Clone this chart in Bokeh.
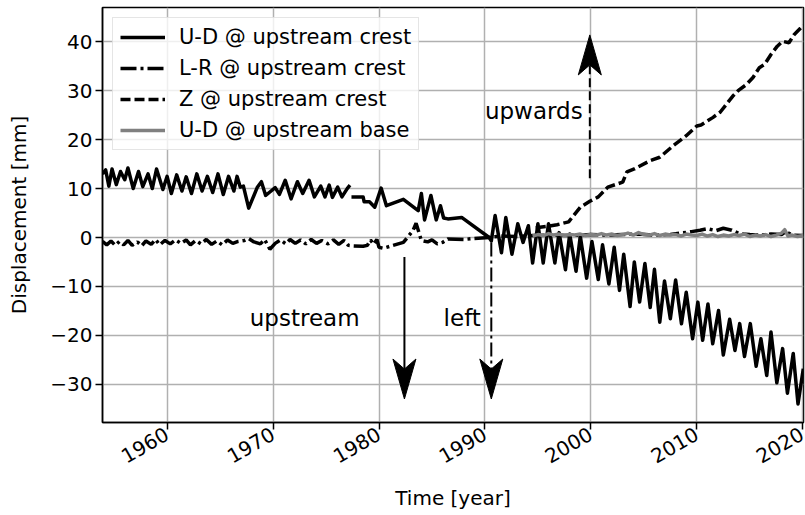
import math
from bokeh.plotting import figure
from bokeh.models import FixedTicker, Label
from bokeh.embed import file_html
from bokeh.resources import INLINE

FONT = "DejaVu Sans"
NAN = float("nan")

# ---------------- data ----------------
# U-D @ upstream crest
ud_crest_t = [1953.9, 1954.2, 1954.5, 1954.8, 1955.2, 1955.6, 1956.0, 1956.3, 1956.8, 1957.3,
              1957.7, 1958.2, 1958.6, 1959.0, 1959.6, 1960.0, 1960.4, 1960.9, 1961.4, 1961.8,
              1962.3, 1962.8, 1963.3, 1963.8, 1964.3, 1964.8, 1965.3, 1965.8, 1966.3, 1966.6,
              1966.9, 1967.2, 1967.7, 1968.5, 1968.9, 1969.3, 1969.7, 1970.2, 1970.6, 1971.15,
              1971.7, 1972.3, 1972.8, 1973.4, 1973.9, 1974.5, 1974.9, 1975.3, 1975.6, 1976.1,
              1976.5, 1977.0, 1977.26, 1977.35,
              1977.4, 1978.5, 1978.6, 1979.1, 1979.6, 1980.2, 1980.7, 1982.3, 1983.7, 1984.0,
              1984.3, 1984.9, 1985.4, 1985.8, 1986.1, 1986.5, 1987.8, 1990.4, 1990.6, 1990.96,
              1991.56, 1991.97, 1992.55, 1993.1, 1993.6, 1994.1, 1994.5, 1995.0, 1995.5, 1996.0,
              1996.6, 1997.0, 1997.6, 1998.0, 1998.6, 1999.0, 1999.6, 2000.1, 2000.7, 2001.1,
              2001.7, 2002.2, 2002.7, 2003.1, 2003.7, 2004.1, 2004.6, 2005.1, 2005.6, 2006.0,
              2006.5, 2006.95, 2007.5, 2008.0, 2008.55, 2009.0, 2009.6, 2010.1, 2010.55, 2011.05,
              2011.5, 2012.05, 2012.5, 2013.1, 2013.6, 2014.05, 2014.5, 2015.05, 2015.6, 2016.05,
              2016.6, 2017.0, 2017.55, 2018.1, 2018.55, 2019.1, 2019.55, 2020.05]
ud_crest_v = [13.0, 13.8, 10.5, 14.0, 10.8, 13.5, 11.8, 14.2, 10.0, 13.5,
              10.4, 13.0, 10.0, 14.0, 9.8, 12.5, 9.0, 12.8, 9.5, 12.4,
              9.0, 13.0, 9.5, 12.5, 9.2, 13.0, 8.8, 12.5, 9.5, 12.5,
              10.3, 10.5, 6.0, 10.2, 11.4, 8.6, 9.3, 10.2, 8.8, 11.7,
              7.9, 11.4, 9.0, 11.7, 8.3, 10.5, 8.3, 10.7, 8.2, 10.3,
              8.3, 10.0, 10.7, NAN,
              8.3, 8.3, 7.3, 7.3, 6.2, 10.1, 6.5, 7.8, 5.5, 9.0,
              3.6, 8.6, 3.6, 6.5, 4.0, 3.8, 4.1, 0.0, -0.7, 4.5,
              -3.1, 4.1, -3.4, 2.8, -1.0, 2.4, -5.2, 2.8, -5.2, 2.8,
              -5.2, 1.0, -6.6, 0.7, -6.9, 0.3, -8.3, -0.8, -8.6, -1.5,
              -9.5, -2.0, -10.8, -3.4, -14.1, -5.0, -13.2, -5.3, -14.3, -6.5,
              -17.3, -8.9, -16.6, -8.7, -17.6, -11.2, -20.7, -13.2, -21.0, -13.6,
              -21.7, -14.9, -24.0, -16.7, -23.1, -17.6, -24.3, -17.6, -26.3, -20.7,
              -28.2, -19.3, -29.7, -22.7, -31.8, -23.7, -34.0, -26.8]

# L-R @ upstream crest
lr_crest_t = [1953.9, 1954.3, 1954.7, 1955.1, 1955.5, 1955.9, 1956.3, 1956.7, 1957.2, 1957.6,
              1958.0, 1958.5, 1958.9, 1959.3, 1959.8, 1960.3, 1960.8, 1961.3, 1961.8, 1962.2,
              1962.7, 1963.2, 1963.7, 1964.2, 1964.7, 1965.2, 1965.7, 1966.2, 1966.7, 1967.3,
              1967.7, 1968.2, 1968.8, 1969.2, 1969.7, 1970.2, 1970.7, 1971.2, 1971.6, 1972.1,
              1972.6, 1973.1, 1973.6, 1974.1, 1974.6, 1975.2, 1975.7, 1976.2, 1976.7, 1977.1,
              1977.5, 1978.5, 1978.9, 1979.2, 1979.5, 1979.8, 1980.0, 1980.4, 1982.3, 1983.2,
              1983.5, 1984.0, 1984.6, 1985.0, 1985.5, 1986.0, 1986.5, 1988.0, 1989.0, 1990.4,
              1991.5, 1993.0, 1994.5, 1996.0, 1998.0, 2000.0, 2001.5, 2003.0, 2004.5, 2006.0,
              2007.5, 2008.5, 2009.5, 2010.3, 2011.0, 2011.8, 2012.5, 2013.3, 2014.0, 2015.0,
              2016.0, 2017.0, 2018.0, 2018.4, 2019.0, 2020.0]
lr_crest_v = [-0.8, -1.5, -0.7, -1.6, -0.8, -1.5, -0.6, -1.6, -0.9, -1.7,
              -0.7, -1.4, -0.4, -1.5, -0.6, -1.3, -0.5, -1.2, -0.5, -1.5,
              -0.6, -1.3, -0.4, -1.4, -0.7, -1.5, -0.5, -1.2, -0.8, -0.6,
              -0.2, -0.9, -1.3, -0.4, -2.4, -1.2, -0.5, -1.3, -0.4, -1.2,
              -0.5, -1.3, -0.4, -1.2, -0.6, -1.3, -0.5, -1.4, -0.6, -1.6,
              -1.7, -1.8, -1.6, -0.5, -1.4, -0.4, -2.0, -2.2, -1.0, 1.4,
              2.9, -0.6, -0.9, -0.5, -1.3, -1.0, -0.3, -0.4, -0.2, 0.0,
              0.3, 0.2, 0.4, 0.5, 0.4, 0.6, 0.5, 0.6, 0.7, 0.5,
              0.6, 0.9, 1.2, 1.5, 1.8, 1.4, 1.9, 1.5, 0.8, 0.6,
              0.5, 0.7, 0.6, 1.2, 0.5, 0.4]

# Z @ upstream crest
z_crest_t = [1994.8, 1996.0, 1996.8, 1997.9, 1999.0, 1999.9, 2000.7, 2001.6, 2003.0, 2003.4,
             2004.1, 2005.6, 2006.5, 2007.8, 2009.0, 2010.0, 2010.4, 2011.5, 2012.2, 2013.4,
             2013.9, 2014.7, 2015.3, 2015.9, 2016.4, 2017.0, 2017.6, 2018.1, 2018.7, 2019.2,
             2019.8, 2020.07]
z_crest_v = [2.0, 2.3, 2.6, 3.2, 6.2, 7.4, 8.3, 10.3, 11.3, 13.4,
             14.0, 15.7, 16.4, 18.8, 20.8, 22.8, 23.0, 24.5, 25.6, 28.9,
             30.0, 31.3, 32.7, 34.7, 35.4, 37.4, 39.1, 40.1, 39.8, 41.5,
             42.8, 43.4]

# U-D @ upstream base
ud_base_t = [1994.5, 1995.0, 1995.5, 1996.0, 1996.5, 1997.0, 1997.5, 1998.0, 1998.5, 1999.0,
             1999.5, 2000.0, 2000.5, 2001.0, 2001.5, 2002.0, 2002.5, 2003.0, 2003.5, 2004.0,
             2004.5, 2005.0, 2005.5, 2006.0, 2006.5, 2007.0, 2007.5, 2008.0, 2008.5, 2009.0,
             2009.5, 2010.0, 2010.5, 2011.0, 2011.5, 2012.0, 2012.5, 2013.0, 2013.5, 2014.0,
             2014.5, 2015.0, 2015.5, 2016.0, 2016.5, 2017.0, 2017.5, 2018.0, 2018.3, 2018.6,
             2019.0, 2019.5, 2020.07]
ud_base_v = [0.3, 0.6, 0.4, 0.8, 0.5, 0.7, 0.4, 0.6, 0.5, 0.7,
             0.4, 0.6, 0.5, 0.8, 0.5, 0.7, 0.4, 0.6, 0.9, 0.5,
             1.0, 0.6, 0.5, 0.8, 0.4, 0.7, 0.5, 0.6, 0.3, 0.7,
             0.5, 0.4, 0.7, 0.3, 0.6, 0.2, 0.5, 0.3, 0.6, 0.4,
             0.7, 0.2, 0.5, 0.3, 0.6, 0.2, 0.5, 0.9, 1.6, 0.3,
             0.5, 0.2, 0.4]

x_ticks = [1960, 1970, 1980, 1990, 2000, 2010, 2020]
y_ticks = [-30, -20, -10, 0, 10, 20, 30, 40]
x_lim = (1953.9, 2020.07)
y_lim = (-37.8, 47.0)

# annotations: arrows (x, start, tip) and labels
arrow_x = [1982.4, 1990.6, 1999.9]
arrow_from = [-4.0, -1.0, 12.1]
arrow_tip = [-33.0, -33.0, 41.4]
arrow_dash = ["solid", "14 4 3 4", "9 4"]
note_text = ["upstream", "left", "upwards"]
note_x = [1967.8, 1986.1, 1990.0]
note_y = [-16.5, -16.5, 25.8]

# ---------------- figure ----------------
W, H = 805, 515
BL, BR, BT, BB = 102, 2, 7, 93
p = figure(width=W, height=H, x_range=x_lim, y_range=y_lim,
           output_backend="svg", toolbar_location=None,
           min_border_left=BL, min_border_right=BR, min_border_top=BT, min_border_bottom=BB)
p.background_fill_color = "white"
p.border_fill_color = "white"
p.outline_line_color = "black"
p.outline_line_width = 1.5

for ax in (p.xaxis[0], p.yaxis[0]):
    ax.major_label_text_font = FONT
    ax.major_label_text_font_size = "20px"
    ax.major_label_text_color = "black"
    ax.axis_label_text_font = FONT
    ax.axis_label_text_font_size = "20px"
    ax.axis_label_text_font_style = "normal"
    ax.axis_label_text_color = "black"
    ax.axis_line_color = "black"
    ax.axis_line_width = 1.5
    ax.major_tick_line_color = "black"
    ax.major_tick_line_width = 1.5
    ax.major_tick_out = 7
    ax.major_tick_in = 0
    ax.minor_tick_line_color = None

p.xaxis.ticker = FixedTicker(ticks=x_ticks)
p.yaxis.ticker = FixedTicker(ticks=y_ticks)
p.yaxis.major_label_overrides = {v: (("\u2212" + str(-v)) if v < 0 else str(v)) for v in y_ticks}
p.xaxis.major_label_overrides = {v: str(v) for v in x_ticks}
p.xaxis.major_label_orientation = math.pi / 6
p.xaxis.axis_label = "Time [year]"
p.yaxis.axis_label = "Displacement [mm]"
p.yaxis.major_label_standoff = 3
p.xaxis.major_label_standoff = 3
p.yaxis.axis_label_standoff = 16
p.xaxis.axis_label_standoff = 13

p.grid.grid_line_color = "#b0b0b0"
p.grid.grid_line_width = 1.5
p.xgrid.ticker = FixedTicker(ticks=x_ticks)
p.ygrid.ticker = FixedTicker(ticks=y_ticks)

LW = 3.5
p.line(ud_crest_t, ud_crest_v, line_color="black", line_width=LW, line_join="round",
       legend_label="U-D @ upstream crest")
p.line(lr_crest_t, lr_crest_v, line_color="black", line_width=LW, line_dash="16 4 3 4",
       legend_label="L-R @ upstream crest")
p.line(z_crest_t, z_crest_v, line_color="black", line_width=LW, line_dash="10 4",
       legend_label="Z @ upstream crest")
p.line(ud_base_t, ud_base_v, line_color="#808080", line_width=LW, line_join="round",
       legend_label="U-D @ upstream base")

# arrows
frame_w = W - BL - BR
frame_h = H - BT - BB
ux = (x_lim[1] - x_lim[0]) / frame_w   # data units per px
uy = (y_lim[1] - y_lim[0]) / frame_h
head_len, head_half, notch = 40, 11.5, 10
xs, ys = [], []
for xa, y0, yt, dash in zip(arrow_x, arrow_from, arrow_tip, arrow_dash):
    d = 1 if yt > y0 else -1
    back = yt - d * head_len * uy
    mid = yt - d * (head_len - notch) * uy
    p.segment(x0=[xa], y0=[y0], x1=[xa], y1=[mid], line_color="black", line_width=2,
              line_dash=dash)
    xs.append([xa, xa - head_half * ux, xa, xa + head_half * ux])
    ys.append([yt, back, mid, back])
p.patches(xs, ys, fill_color="black", line_color="black", line_width=1)

for t, x, y in zip(note_text, note_x, note_y):
    p.add_layout(Label(x=x, y=y, text=t, text_font=FONT, text_font_size="23px",
                       text_color="black", text_baseline="alphabetic", text_align="left"))

lg = p.legend[0]
lg.location = "top_left"
lg.margin = 10
lg.padding = 7
lg.spacing = 7
lg.label_height = 20
lg.glyph_height = 20
lg.glyph_width = 45
lg.label_standoff = 14
lg.label_text_font = FONT
lg.label_text_font_size = "21px"
lg.label_text_color = "black"
lg.background_fill_alpha = 0.8
lg.border_line_color = "#cccccc"
lg.border_line_width = 1.5

open("out.html", "w").write(file_html(p, INLINE))
